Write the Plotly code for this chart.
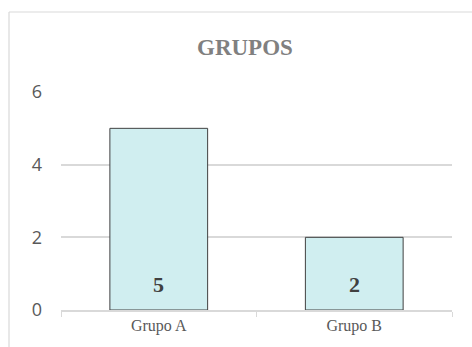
import plotly.graph_objects as go

categories = ["Grupo A", "Grupo B"]
values = [5, 2]
y_ticks = [0, 2, 4, 6]

W, H = 472, 347
L, R, T, B = 61, 20, 92, 37
pw = W - L - R
ph = H - T - B

fig = go.Figure()
fig.add_trace(go.Bar(
    x=categories, y=values,
    width=0.5,
    marker=dict(color="#d0eef0", line=dict(color="#404040", width=1)),
    hoverinfo="x+y",
))

def px_x(p):
    return (p - L) / pw

def px_y(p):
    return 1 - (p - T) / ph

fig.add_shape(type="line", xref="paper", yref="paper",
              x0=px_x(9), x1=px_x(480), y0=px_y(12), y1=px_y(12),
              line=dict(color="#d9d9d9", width=1.2))
fig.add_shape(type="line", xref="paper", yref="paper",
              x0=px_x(9), x1=px_x(9), y0=px_y(12), y1=px_y(360),
              line=dict(color="#d9d9d9", width=1.2))

annotations = [dict(
    text="<b>GRUPOS</b>", xref="paper", yref="paper",
    x=px_x(244.5), y=px_y(47), xanchor="center", yanchor="middle",
    showarrow=False,
    font=dict(family="Liberation Serif", size=23, color="#808080"),
)]
for c, v in zip(categories, values):
    annotations.append(dict(
        text=f"<b>{v}</b>", x=c, y=0, xref="x", yref="y",
        xanchor="center", yanchor="middle", yshift=26,
        showarrow=False,
        font=dict(family="Liberation Serif", size=22, color="#404040"),
    ))

fig.update_layout(
    width=W, height=H,
    margin=dict(l=L, r=R, t=T, b=B),
    paper_bgcolor="white", plot_bgcolor="white",
    showlegend=False,
    bargap=0.5,
    annotations=annotations,
)
fig.update_xaxes(
    showline=True, linecolor="#d9d9d9", linewidth=1.5,
    ticks="outside", tickson="boundaries", ticklen=5, tickcolor="#d9d9d9",
    tickfont=dict(family="Liberation Serif", size=16, color="#595959"),
    showgrid=False,
)
fig.update_yaxes(
    range=[0, 6], tickvals=y_ticks,
    showgrid=True, gridcolor="#d9d9d9", gridwidth=1.5,
    zeroline=False, showline=False,
    tickfont=dict(family="Open Sans", size=18, color="#595959"),
    ticklabelstandoff=18,
)

fig.write_html("out.html")
